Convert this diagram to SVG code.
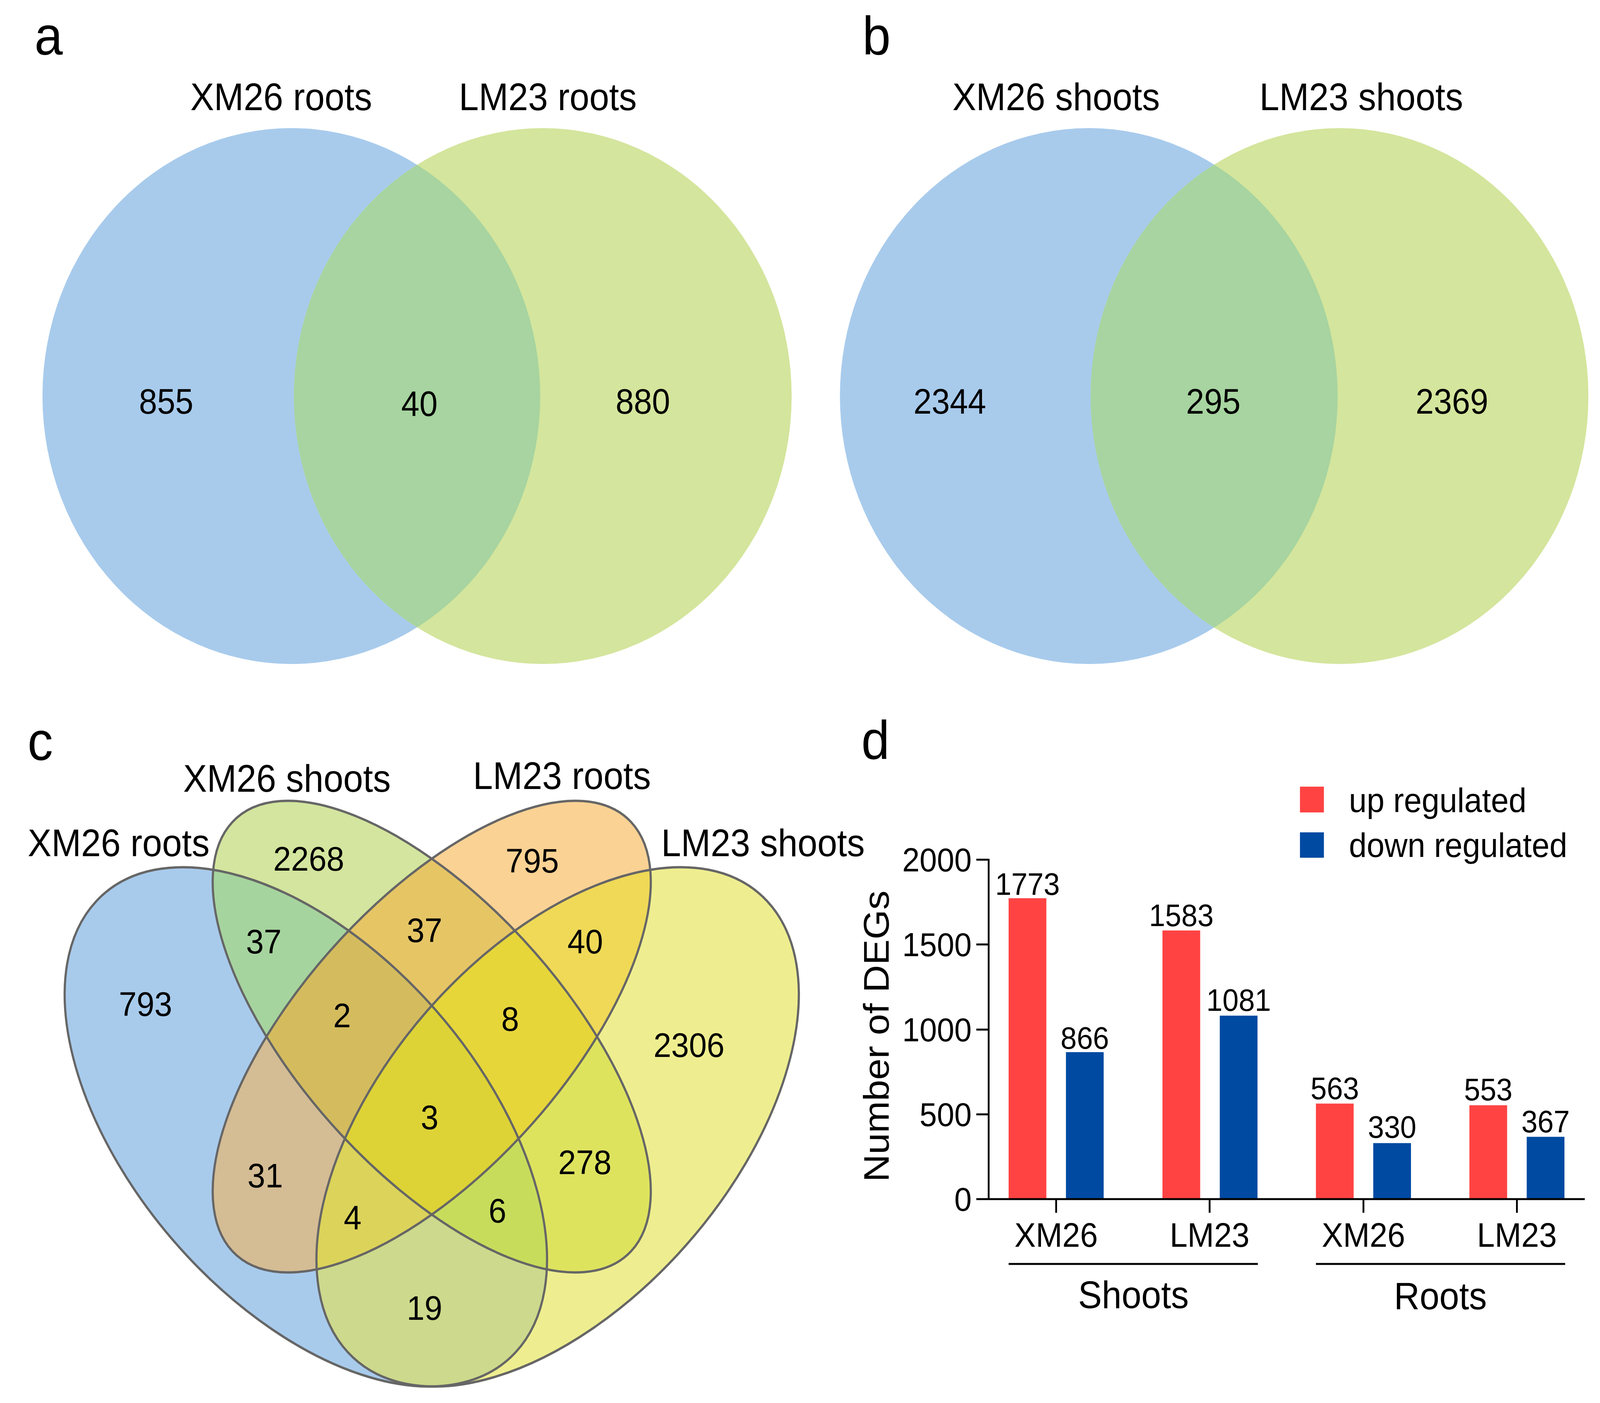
<svg xmlns="http://www.w3.org/2000/svg" xmlns:xlink="http://www.w3.org/1999/xlink" width="4410" height="3592" viewBox="0 0 4410 3592">
<style>
text{font-family:"Liberation Sans",Arial,sans-serif;fill:#000}
.lt{font-size:140px}
.ti{font-size:98px;text-anchor:middle}
.nu{font-size:90px;text-anchor:middle}
.nc{font-size:88px;text-anchor:middle}
.tk{font-size:86px;text-anchor:end}
.vl{font-size:80px;text-anchor:middle}
.cl{font-size:88px;text-anchor:middle}
.lg{font-size:88px}
.ax{stroke:#000;stroke-width:5;fill:none}
.up{fill:#FF4343}
.dn{fill:#004AA2}
.ol{fill:none;stroke:#666;stroke-width:6}
</style>
<defs>
<clipPath id="clipA"><circle cx="803" cy="1014" r="686"/></clipPath>
<clipPath id="clipB"><circle cx="3001" cy="1014" r="686"/></clipPath>
<ellipse id="eB" cx="843" cy="2885" rx="817" ry="465" transform="rotate(45 843 2885)"/>
<ellipse id="eG" cx="1190" cy="2654" rx="777" ry="354" transform="rotate(45 1190 2654)"/>
<ellipse id="eO" cx="1190" cy="2654" rx="777" ry="354" transform="rotate(-45 1190 2654)"/>
<ellipse id="eY" cx="1537" cy="2885" rx="817" ry="465" transform="rotate(-45 1537 2885)"/>
<clipPath id="cB"><ellipse cx="843" cy="2885" rx="817" ry="465" transform="rotate(45 843 2885)"/></clipPath>
<clipPath id="cG"><ellipse cx="1190" cy="2654" rx="777" ry="354" transform="rotate(45 1190 2654)"/></clipPath>
<clipPath id="cO"><ellipse cx="1190" cy="2654" rx="777" ry="354" transform="rotate(-45 1190 2654)"/></clipPath>
<clipPath id="cY"><ellipse cx="1537" cy="2885" rx="817" ry="465" transform="rotate(-45 1537 2885)"/></clipPath>
</defs>
<rect width="4410" height="3592" fill="#fff"/>
<g id="figure" transform="scale(0.9288 1)">

<g id="panel-a">
<text class="lt" x="95" y="140">a</text>
<g id="a-xm26-roots">
<circle cx="803" cy="1014" r="686" fill="#A8CBEC"/>
<text class="ti" x="775" y="282">XM26 roots</text>
</g>
<g id="a-lm23-roots">
<circle cx="1496" cy="1014" r="686" fill="#D4E59D"/>
<circle cx="1496" cy="1014" r="686" fill="#A7D4A0" clip-path="url(#clipA)"/>
<text class="ti" x="1510" y="282">LM23 roots</text>
</g>
<text class="nu" x="458" y="1059">855</text>
<text class="nu" x="1156" y="1065">40</text>
<text class="nu" x="1772" y="1059">880</text>
</g>

<g id="panel-b">
<text class="lt" x="2377" y="140">b</text>
<g id="b-xm26-shoots">
<circle cx="3001" cy="1014" r="686" fill="#A8CBEC"/>
<text class="ti" x="2911" y="282">XM26 shoots</text>
</g>
<g id="b-lm23-shoots">
<circle cx="3692" cy="1014" r="686" fill="#D4E59D"/>
<circle cx="3692" cy="1014" r="686" fill="#A7D4A0" clip-path="url(#clipB)"/>
<text class="ti" x="3752" y="282">LM23 shoots</text>
</g>
<text class="nu" x="2618" y="1059">2344</text>
<text class="nu" x="3344" y="1059">295</text>
<text class="nu" x="4002" y="1059">2369</text>
</g>

<g id="panel-c">
<text class="lt" x="76" y="1946">c</text>
<g id="c-fills">
<use xlink:href="#eB" fill="#A8CBEC"/>
<use xlink:href="#eG" fill="#D3E59E"/>
<use xlink:href="#eO" fill="#FAD294"/>
<use xlink:href="#eY" fill="#EEEE90"/>
<use xlink:href="#eG" fill="#A6D49E" clip-path="url(#cB)"/>
<use xlink:href="#eO" fill="#D4BC94" clip-path="url(#cB)"/>
<use xlink:href="#eY" fill="#CDD98C" clip-path="url(#cB)"/>
<use xlink:href="#eO" fill="#E6C565" clip-path="url(#cG)"/>
<use xlink:href="#eY" fill="#DEE35E" clip-path="url(#cG)"/>
<use xlink:href="#eY" fill="#EFD957" clip-path="url(#cO)"/>
<g clip-path="url(#cB)"><use xlink:href="#eO" fill="#D4BC5E" clip-path="url(#cG)"/></g>
<g clip-path="url(#cB)"><use xlink:href="#eY" fill="#C8DC5C" clip-path="url(#cG)"/></g>
<g clip-path="url(#cB)"><use xlink:href="#eY" fill="#DCD35A" clip-path="url(#cO)"/></g>
<g clip-path="url(#cG)"><use xlink:href="#eY" fill="#E6D63A" clip-path="url(#cO)"/></g>
<g clip-path="url(#cB)"><g clip-path="url(#cG)"><use xlink:href="#eY" fill="#DDD336" clip-path="url(#cO)"/></g></g>
</g>
<g id="c-xm26-roots">
<use xlink:href="#eB" class="ol"/>
<text class="ti" x="327" y="2192">XM26 roots</text>
</g>
<g id="c-xm26-shoots">
<use xlink:href="#eG" class="ol"/>
<text class="ti" x="791" y="2027">XM26 shoots</text>
</g>
<g id="c-lm23-roots">
<use xlink:href="#eO" class="ol"/>
<text class="ti" x="1549" y="2020">LM23 roots</text>
</g>
<g id="c-lm23-shoots">
<use xlink:href="#eY" class="ol"/>
<text class="ti" x="2103" y="2192">LM23 shoots</text>
</g>
<g id="c-counts">
<text class="nc" x="851" y="2229">2268</text>
<text class="nc" x="1467" y="2234">795</text>
<text class="nc" x="727" y="2441">37</text>
<text class="nc" x="1170" y="2412">37</text>
<text class="nc" x="1613" y="2441">40</text>
<text class="nc" x="401" y="2601">793</text>
<text class="nc" x="943" y="2630">2</text>
<text class="nc" x="1406" y="2639">8</text>
<text class="nc" x="1899" y="2706">2306</text>
<text class="nc" x="1184" y="2891">3</text>
<text class="nc" x="731" y="3040">31</text>
<text class="nc" x="1612" y="3006">278</text>
<text class="nc" x="972" y="3148">4</text>
<text class="nc" x="1371" y="3130">6</text>
<text class="nc" x="1170" y="3379">19</text>
</g>
</g>

<g id="panel-d">
<text class="lt" x="2374" y="1943">d</text>
<g id="d-legend">
<rect class="up" x="3583" y="2014" width="66" height="66"/>
<text class="lg" x="3718" y="2079">up regulated</text>
<rect class="dn" x="3583" y="2131" width="66" height="65"/>
<text class="lg" x="3718" y="2194">down regulated</text>
</g>
<g id="d-bars">
<rect class="up" x="2780" y="2299.6" width="104" height="770.4"/>
<rect class="dn" x="2938" y="2693.7" width="104" height="376.3"/>
<rect class="up" x="3204" y="2382.2" width="104" height="687.8"/>
<rect class="dn" x="3362" y="2600.3" width="104" height="469.7"/>
<rect class="up" x="3627" y="2825.4" width="104" height="244.6"/>
<rect class="dn" x="3785" y="2926.6" width="104" height="143.4"/>
<rect class="up" x="4050" y="2829.7" width="104" height="240.3"/>
<rect class="dn" x="4208" y="2910.5" width="104" height="159.5"/>
</g>
<g id="d-values">
<text class="vl" x="2832" y="2291">1773</text>
<text class="vl" x="2990" y="2685">866</text>
<text class="vl" x="3256" y="2371">1583</text>
<text class="vl" x="3414" y="2588">1081</text>
<text class="vl" x="3679" y="2814">563</text>
<text class="vl" x="3837" y="2913">330</text>
<text class="vl" x="4102" y="2817">553</text>
<text class="vl" x="4260" y="2899">367</text>
</g>
<g id="d-axes">
<path class="ax" d="M2725 2199V3070M2691 3070H4368M2691 2201H2725M2691 2418H2725M2691 2636H2725M2691 2853H2725"/>
<path class="ax" d="M2911 3070V3105M3334 3070V3105M3758 3070V3105M4181 3070V3105"/>
<path class="ax" d="M2780 3236H3467M3627 3236H4314"/>
<text class="tk" x="2678" y="2231">2000</text>
<text class="tk" x="2678" y="2448">1500</text>
<text class="tk" x="2678" y="2666">1000</text>
<text class="tk" x="2678" y="2883">500</text>
<text class="tk" x="2678" y="3100">0</text>
<text class="cl" x="2911" y="3192">XM26</text>
<text class="cl" x="3334" y="3192">LM23</text>
<text class="cl" x="3758" y="3192">XM26</text>
<text class="cl" x="4181" y="3192">LM23</text>
<text class="ti" x="3124" y="3349">Shoots</text>
<text class="ti" x="3970" y="3352">Roots</text>
<text class="ti" x="2449" y="2653" transform="rotate(-90 2449 2653)">Number of DEGs</text>
</g>
</g>
</g>
</svg>
